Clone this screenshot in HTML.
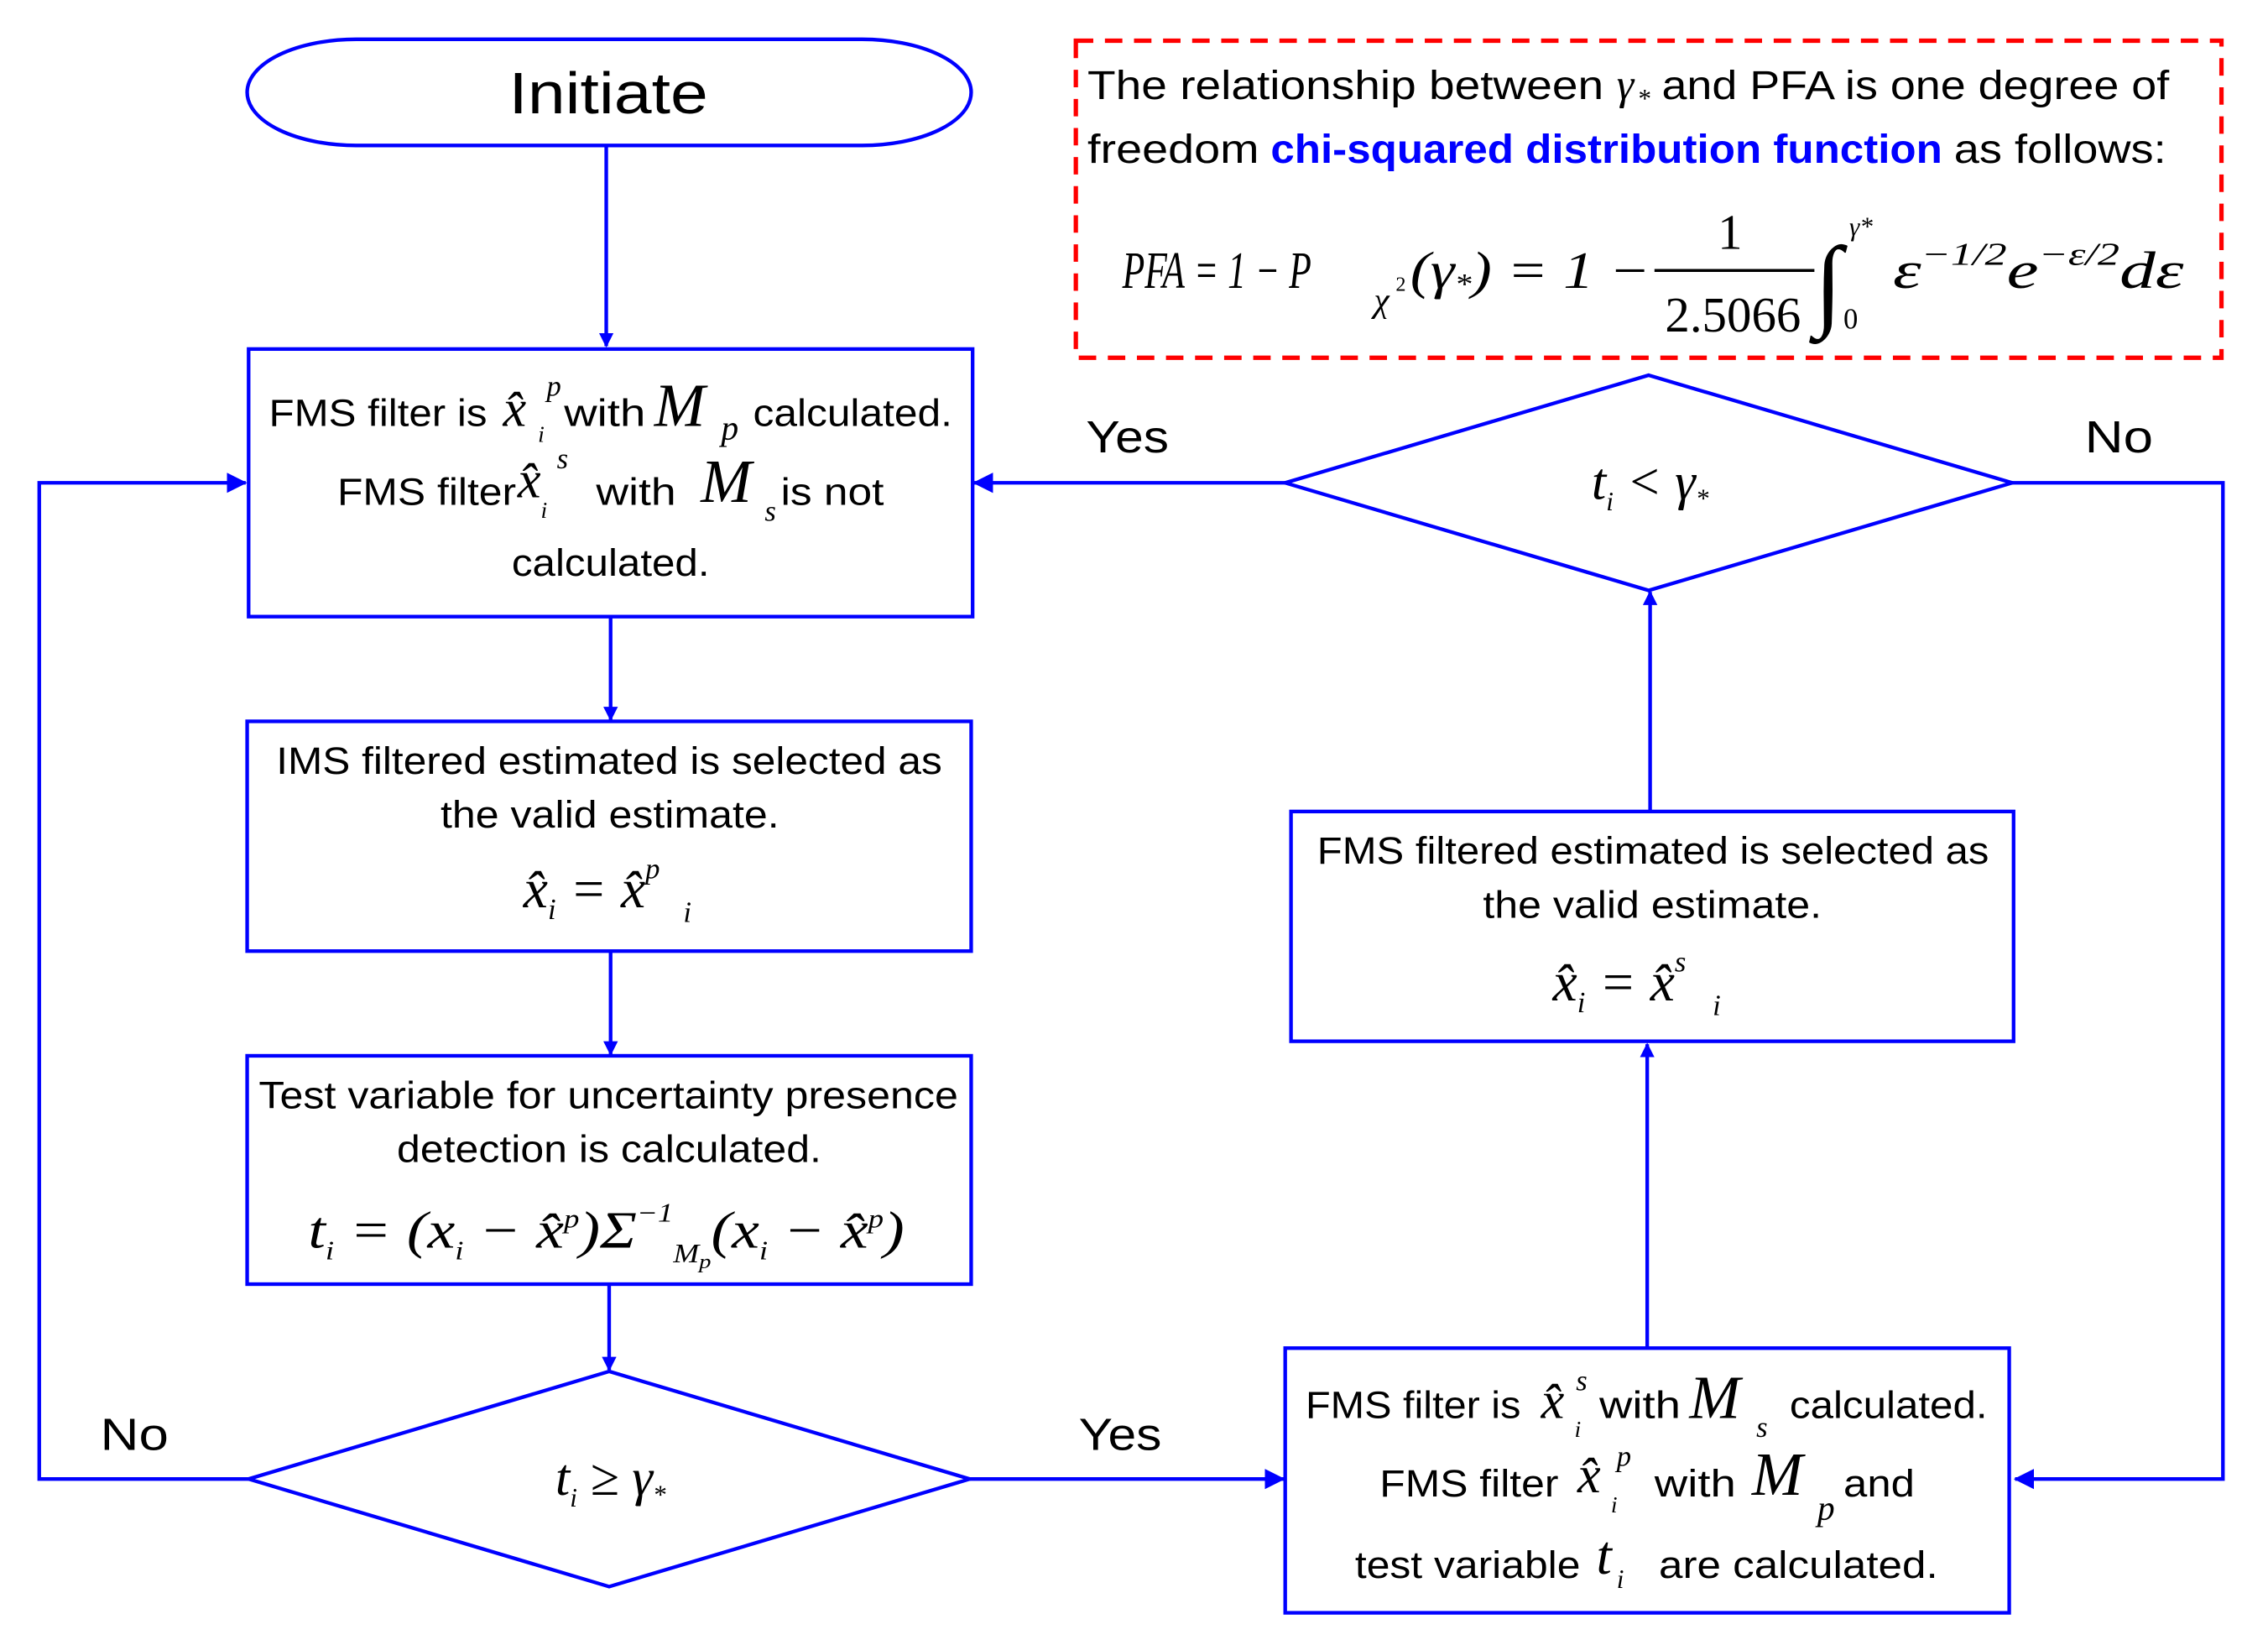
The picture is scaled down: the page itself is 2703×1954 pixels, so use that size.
<!DOCTYPE html>
<html><head><meta charset="utf-8"><style>
html,body{margin:0;padding:0;background:#fff;}
svg{display:block;}
text{font-family:"Liberation Sans",sans-serif;fill:#000;}
.m{font-family:"Liberation Serif",serif;font-style:italic;}
.r{font-family:"Liberation Serif",serif;}
</style></head><body>
<svg width="2703" height="1954" viewBox="0 0 1560 1127.7" preserveAspectRatio="none" xmlns="http://www.w3.org/2000/svg">
<defs><marker id="a" markerWidth="10" markerHeight="10" refX="9" refY="5" orient="auto" markerUnits="userSpaceOnUse"><path d="M0,0 L10,5 L0,10 z" fill="#0000ff"/></marker>
<marker id="b" markerWidth="14" markerHeight="14" refX="13" refY="7" orient="auto" markerUnits="userSpaceOnUse"><path d="M0,0 L14,7 L0,14 z" fill="#0000ff"/></marker></defs>
<g fill="none" stroke="#0000ff" stroke-width="2.5">
<rect x="170" y="27" width="498" height="73" rx="75" ry="36.5"/>
<rect x="171" y="240" width="498" height="184"/>
<rect x="170" y="496" width="498" height="158"/>
<rect x="170" y="726" width="498" height="157"/>
<rect x="884" y="927" width="498" height="182"/>
<rect x="888" y="558" width="497" height="158"/>
<polygon points="419,943 667,1017 419,1091 171,1017"/>
<polygon points="1134,258 1384,332 1134,406 884,332"/>
<line x1="417" y1="100" x2="417" y2="238" marker-end="url(#a)"/>
<line x1="420" y1="424" x2="420" y2="495" marker-end="url(#a)"/>
<line x1="420" y1="654" x2="420" y2="725" marker-end="url(#a)"/>
<line x1="419" y1="883" x2="419" y2="942" marker-end="url(#a)"/>
<polyline points="171,1017 27,1017 27,332 169,332" marker-end="url(#b)"/>
<line x1="667" y1="1017" x2="883" y2="1017" marker-end="url(#b)"/>
<line x1="1133" y1="927" x2="1133" y2="718" marker-end="url(#a)"/>
<line x1="1135" y1="558" x2="1135" y2="407" marker-end="url(#a)"/>
<line x1="884" y1="332" x2="670" y2="332" marker-end="url(#b)"/>
<polyline points="1384,332 1529,332 1529,1017 1386,1017" marker-end="url(#b)"/>
</g>
<rect x="740" y="28" width="788" height="218" fill="none" stroke="#ff0000" stroke-width="3" stroke-dasharray="12,8"/>
<text x="350" y="78" font-size="40" textLength="137" lengthAdjust="spacingAndGlyphs">Initiate</text>
<text x="747" y="311" font-size="31" textLength="57" lengthAdjust="spacingAndGlyphs">Yes</text>
<text x="1434" y="311" font-size="31" textLength="47" lengthAdjust="spacingAndGlyphs">No</text>
<text x="69" y="997" font-size="31" textLength="47" lengthAdjust="spacingAndGlyphs">No</text>
<text x="742" y="997" font-size="31" textLength="57" lengthAdjust="spacingAndGlyphs">Yes</text>

<!-- Box1 -->
<text x="185" y="293" font-size="26" textLength="150" lengthAdjust="spacingAndGlyphs">FMS filter is</text>
<text class="m" x="346" y="293" font-size="36">x̂</text>
<text class="m" x="376" y="272" font-size="20">p</text>
<text class="m" x="370" y="304" font-size="16">i</text>
<text x="388" y="293" font-size="26" textLength="56" lengthAdjust="spacingAndGlyphs">with</text>
<text class="m" x="450" y="293" font-size="42">M</text>
<text class="m" x="496" y="302" font-size="24">p</text>
<text x="518" y="293" font-size="26" textLength="137" lengthAdjust="spacingAndGlyphs">calculated.</text>
<text x="232" y="347" font-size="26" textLength="123" lengthAdjust="spacingAndGlyphs">FMS filter</text>
<text class="m" x="356" y="342" font-size="36">x̂</text>
<text class="m" x="383" y="322" font-size="20">s</text>
<text class="m" x="372" y="356" font-size="16">i</text>
<text x="410" y="347" font-size="26" textLength="55" lengthAdjust="spacingAndGlyphs">with</text>
<text class="m" x="482" y="345" font-size="42">M</text>
<text class="m" x="526" y="358" font-size="20">s</text>
<text x="537" y="347" font-size="26" textLength="71" lengthAdjust="spacingAndGlyphs">is not</text>
<text x="352" y="396" font-size="26" textLength="136" lengthAdjust="spacingAndGlyphs">calculated.</text>

<!-- Box2 -->
<text x="190" y="532" font-size="26" textLength="458" lengthAdjust="spacingAndGlyphs">IMS filtered estimated is selected as</text>
<text x="303" y="569" font-size="26" textLength="233" lengthAdjust="spacingAndGlyphs">the valid estimate.</text>
<text class="m" x="360" y="624" font-size="38">x̂<tspan font-size="20" dy="8">i</tspan><tspan class="r" dy="-8"> = </tspan>x̂<tspan font-size="20" dy="-20">p</tspan></text>
<text class="m" x="470" y="634" font-size="20">i</text>

<!-- Box3 -->
<text x="178" y="762" font-size="26" textLength="481" lengthAdjust="spacingAndGlyphs">Test variable for uncertainty presence</text>
<text x="273" y="799" font-size="26" textLength="292" lengthAdjust="spacingAndGlyphs">detection is calculated.</text>
<text class="m" x="212" y="858" font-size="36" textLength="410" lengthAdjust="spacingAndGlyphs">t<tspan font-size="18" dy="8">i</tspan><tspan class="r" dy="-8"> = (</tspan>x<tspan font-size="18" dy="8">i</tspan><tspan class="r" dy="-8"> − </tspan>x̂<tspan font-size="18" dy="-14">p</tspan><tspan class="r" dy="14">)Σ</tspan><tspan font-size="18" dy="-18">−1</tspan><tspan font-size="18" dy="28">M</tspan><tspan font-size="14" dy="4">p</tspan><tspan class="r" dy="-14">(</tspan>x<tspan font-size="18" dy="8">i</tspan><tspan class="r" dy="-8"> − </tspan>x̂<tspan font-size="18" dy="-14">p</tspan><tspan class="r" dy="14">)</tspan></text>

<!-- Diamond1 -->
<text class="m" x="420" y="1028" font-size="36" text-anchor="middle">t<tspan font-size="18" dy="8">i</tspan><tspan class="r" dy="-8"> ≥ </tspan>γ<tspan font-size="18" dy="6">*</tspan></text>
<!-- Diamond2 -->
<text class="m" x="1135" y="343" font-size="36" text-anchor="middle">t<tspan font-size="18" dy="8">i</tspan><tspan class="r" dy="-8"> &lt; </tspan>γ<tspan font-size="18" dy="6">*</tspan></text>

<!-- Box5 -->
<text x="906" y="594" font-size="26" textLength="462" lengthAdjust="spacingAndGlyphs">FMS filtered estimated is selected as</text>
<text x="1020" y="631" font-size="26" textLength="233" lengthAdjust="spacingAndGlyphs">the valid estimate.</text>
<text class="m" x="1068" y="688" font-size="38">x̂<tspan font-size="20" dy="8">i</tspan><tspan class="r" dy="-8"> = </tspan>x̂<tspan font-size="20" dy="-20">s</tspan></text>
<text class="m" x="1178" y="698" font-size="20">i</text>

<!-- Box4 -->
<text x="898" y="975" font-size="26" textLength="148" lengthAdjust="spacingAndGlyphs">FMS filter is</text>
<text class="m" x="1060" y="975" font-size="36">x̂</text>
<text class="m" x="1084" y="956" font-size="20">s</text>
<text class="m" x="1083" y="988" font-size="16">i</text>
<text x="1100" y="975" font-size="26" textLength="56" lengthAdjust="spacingAndGlyphs">with</text>
<text class="m" x="1162" y="975" font-size="42">M</text>
<text class="m" x="1208" y="988" font-size="20">s</text>
<text x="1231" y="975" font-size="26" textLength="136" lengthAdjust="spacingAndGlyphs">calculated.</text>
<text x="949" y="1029" font-size="26" textLength="123" lengthAdjust="spacingAndGlyphs">FMS filter</text>
<text class="m" x="1085" y="1026" font-size="36">x̂</text>
<text class="m" x="1112" y="1008" font-size="20">p</text>
<text class="m" x="1108" y="1040" font-size="16">i</text>
<text x="1138" y="1029" font-size="26" textLength="56" lengthAdjust="spacingAndGlyphs">with</text>
<text class="m" x="1205" y="1028" font-size="42">M</text>
<text class="m" x="1250" y="1045" font-size="24">p</text>
<text x="1268" y="1029" font-size="26" textLength="49" lengthAdjust="spacingAndGlyphs">and</text>
<text x="932" y="1085" font-size="26" textLength="155" lengthAdjust="spacingAndGlyphs">test variable</text>
<text class="m" x="1098" y="1082" font-size="38">t</text>
<text class="m" x="1112" y="1092" font-size="18">i</text>
<text x="1141" y="1085" font-size="26" textLength="192" lengthAdjust="spacingAndGlyphs">are  calculated.</text>

<!-- Red box -->
<text x="748" y="68" font-size="28" textLength="355" lengthAdjust="spacingAndGlyphs">The relationship between</text>
<text class="m" x="1112" y="68" font-size="30">γ</text>
<text class="m" x="1126" y="74" font-size="18">*</text>
<text x="1143" y="68" font-size="28" textLength="349" lengthAdjust="spacingAndGlyphs">and PFA is one degree of</text>
<text x="748" y="112" font-size="28" textLength="118" lengthAdjust="spacingAndGlyphs">freedom</text>
<text x="874" y="112" font-size="28" font-weight="bold" style="fill:#0000ff" textLength="462" lengthAdjust="spacingAndGlyphs">chi-squared distribution function</text>
<text x="1344" y="112" font-size="28" textLength="146" lengthAdjust="spacingAndGlyphs">as follows:</text>

<text class="m" x="772" y="198" font-size="36" textLength="130" lengthAdjust="spacingAndGlyphs">PFA<tspan class="r"> = 1 − </tspan>P</text>
<text class="m" x="945" y="214" font-size="24">χ</text>
<text class="r" x="960" y="200" font-size="14">2</text>
<text class="m" x="970" y="198" font-size="36" textLength="165" lengthAdjust="spacingAndGlyphs"><tspan class="r">(</tspan>γ<tspan font-size="20" dy="4">*</tspan><tspan class="r" dy="-4">) = 1 −</tspan></text>
<text class="r" x="1190" y="171" font-size="34" text-anchor="middle">1</text>
<line x1="1138" y1="186" x2="1248" y2="186" stroke="#000" stroke-width="2"/>
<text class="r" x="1192" y="228" font-size="34" text-anchor="middle">2.5066</text>
<text class="r" x="1248" y="218" font-size="70">∫</text>
<text class="m" x="1272" y="162" font-size="18">γ*</text>
<text class="r" x="1268" y="226" font-size="20">0</text>
<text class="m" x="1302" y="198" font-size="36" textLength="200" lengthAdjust="spacingAndGlyphs">ε<tspan font-size="22" dy="-16">−1/2</tspan><tspan dy="16">e</tspan><tspan font-size="22" dy="-16">−ε/2</tspan><tspan dy="16">dε</tspan></text>
</svg>
</body></html>
